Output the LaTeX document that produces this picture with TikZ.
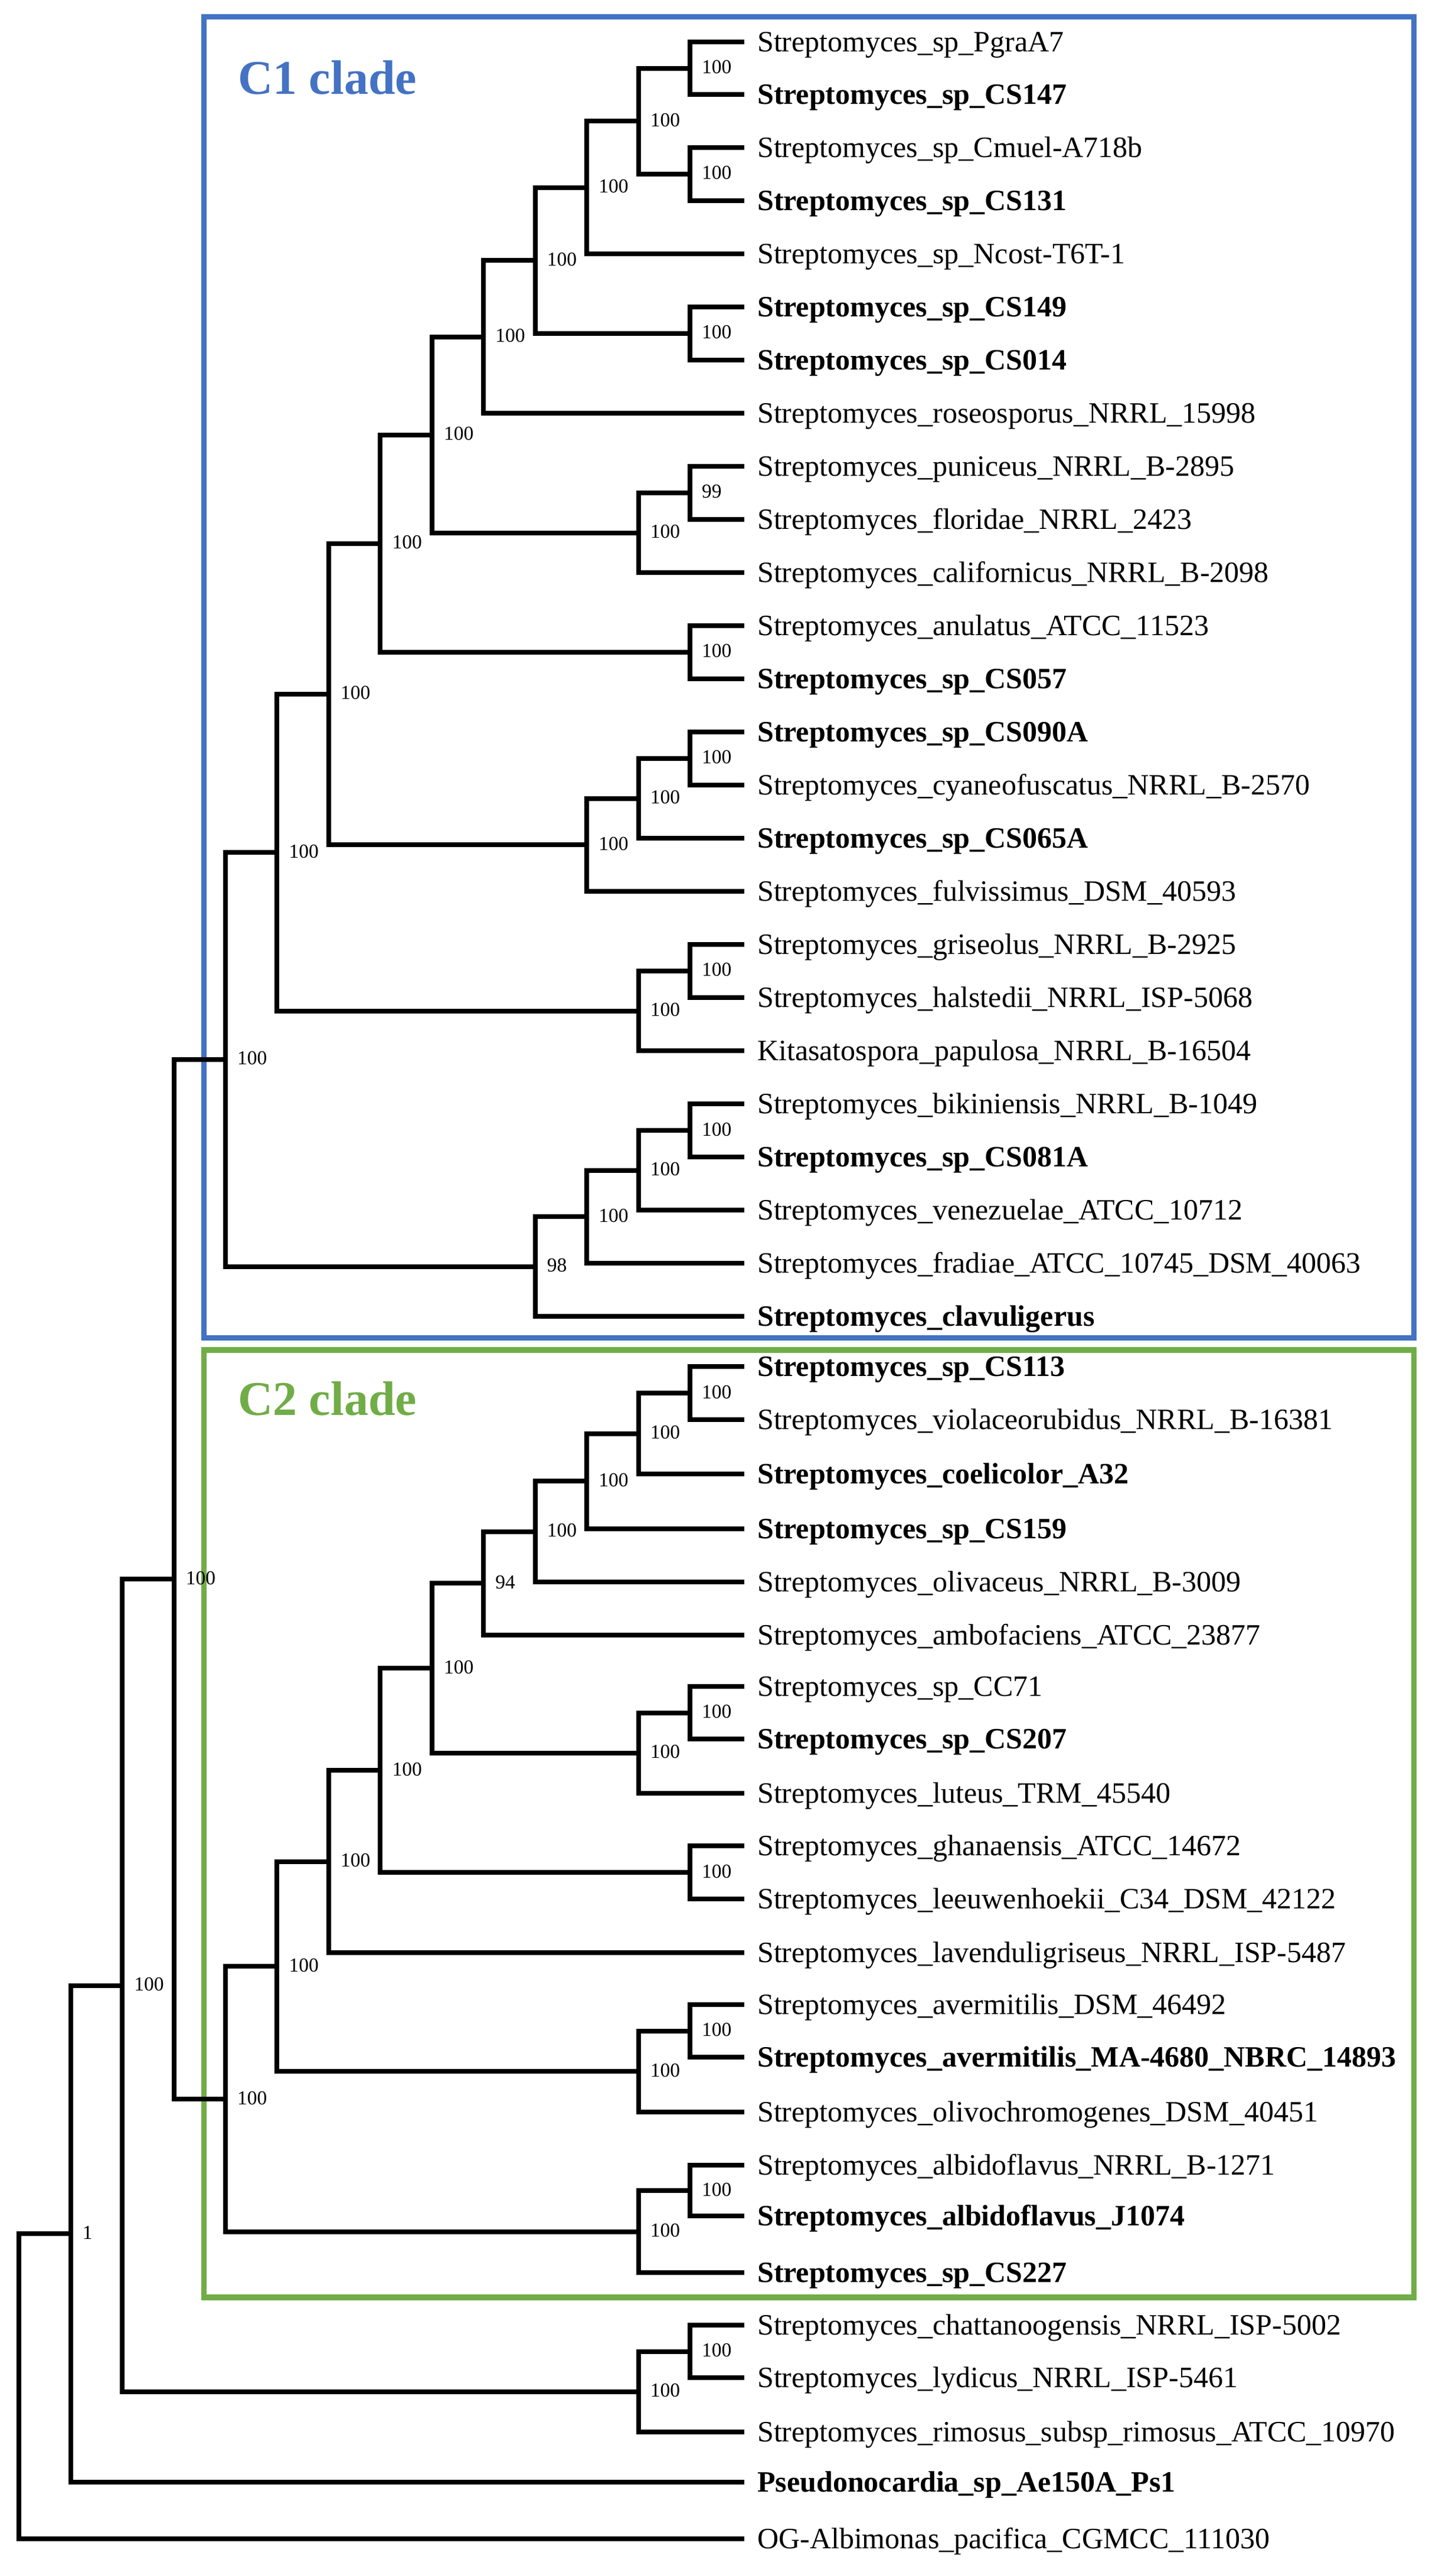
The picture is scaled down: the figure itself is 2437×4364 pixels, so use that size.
\documentclass[tikz,border=0pt]{standalone}
\usepackage{fontspec}
\setmainfont{Liberation Serif}
\definecolor{cladeblue}{HTML}{4472C4}
\definecolor{cladegreen}{HTML}{70AD47}
\tikzset{
  branch/.style={line width=8pt, line join=miter, line cap=butt, black},
  boot/.style={anchor=west, inner sep=0pt, font=\fontsize{33.5}{40}\selectfont},
  lf/.style={anchor=base west, inner sep=0pt, font=\fontsize{50}{60}\selectfont},
  lfb/.style={anchor=base west, inner sep=0pt, font=\fontsize{50}{60}\selectfont\bfseries},
  cladebox/.style={line width=9.3pt},
  cladelabel/.style={anchor=base west, inner sep=0pt, font=\fontsize{82}{90}\selectfont\bfseries},
}
% leaf: #1 index, #2 y, #3 style, #4 text
\newcommand\leafitem[4]{%
  \coordinate (t#1) at (1261,#2);
  \node[#3] (l#1) at (1283,#2+16) {#4};
}
% clade: #1 name, #2 level, #3 y, #4 child 1, #5 child 2, #6 support
\newcommand\cladenode[6]{%
  \coordinate (#1) at ({1169-87.44*(#2-1)},#3);
  \draw[branch] (#4) -| (#1) |- (#5);
  \node[boot] (b#1) at ({1169-87.44*(#2-1)+20},#3-2) {#6};
}
\begin{document}
\begin{tikzpicture}[x=1pt,y=-1pt]
\useasboundingbox (0,0) rectangle (2437,4364);
\fill[white] (0,0) rectangle (2437,4364);
% clade boxes
\draw[cladebox, cladeblue] (345.3,28.7) rectangle (2395.5,2266.7);
\draw[cladebox, cladegreen] (345.3,2287) rectangle (2395.5,3892);
\node[cladelabel, text=cladeblue] (c1lab) at (403,159) {C1 clade};
\node[cladelabel, text=cladegreen] (c2lab) at (403,2397) {C2 clade};
% leaves
\leafitem{0}{71}{lf}{Streptomyces\_sp\_PgraA7}
\leafitem{1}{160}{lfb}{Streptomyces\_sp\_CS147}
\leafitem{2}{250}{lf}{Streptomyces\_sp\_Cmuel-A718b}
\leafitem{3}{340}{lfb}{Streptomyces\_sp\_CS131}
\leafitem{4}{430}{lf}{Streptomyces\_sp\_Ncost-T6T-1}
\leafitem{5}{520}{lfb}{Streptomyces\_sp\_CS149}
\leafitem{6}{610}{lfb}{Streptomyces\_sp\_CS014}
\leafitem{7}{700}{lf}{Streptomyces\_roseosporus\_NRRL\_15998}
\leafitem{8}{790}{lf}{Streptomyces\_puniceus\_NRRL\_B-2895}
\leafitem{9}{880}{lf}{Streptomyces\_floridae\_NRRL\_2423}
\leafitem{10}{970}{lf}{Streptomyces\_californicus\_NRRL\_B-2098}
\leafitem{11}{1060}{lf}{Streptomyces\_anulatus\_ATCC\_11523}
\leafitem{12}{1150}{lfb}{Streptomyces\_sp\_CS057}
\leafitem{13}{1240}{lfb}{Streptomyces\_sp\_CS090A}
\leafitem{14}{1330}{lf}{Streptomyces\_cyaneofuscatus\_NRRL\_B-2570}
\leafitem{15}{1420}{lfb}{Streptomyces\_sp\_CS065A}
\leafitem{16}{1510}{lf}{Streptomyces\_fulvissimus\_DSM\_40593}
\leafitem{17}{1600}{lf}{Streptomyces\_griseolus\_NRRL\_B-2925}
\leafitem{18}{1690}{lf}{Streptomyces\_halstedii\_NRRL\_ISP-5068}
\leafitem{19}{1780}{lf}{Kitasatospora\_papulosa\_NRRL\_B-16504}
\leafitem{20}{1870}{lf}{Streptomyces\_bikiniensis\_NRRL\_B-1049}
\leafitem{21}{1960}{lfb}{Streptomyces\_sp\_CS081A}
\leafitem{22}{2050}{lf}{Streptomyces\_venezuelae\_ATCC\_10712}
\leafitem{23}{2140}{lf}{Streptomyces\_fradiae\_ATCC\_10745\_DSM\_40063}
\leafitem{24}{2230}{lfb}{Streptomyces\_clavuligerus}
\leafitem{25}{2315}{lfb}{Streptomyces\_sp\_CS113}
\leafitem{26}{2405}{lf}{Streptomyces\_violaceorubidus\_NRRL\_B-16381}
\leafitem{27}{2497}{lfb}{Streptomyces\_coelicolor\_A32}
\leafitem{28}{2590}{lfb}{Streptomyces\_sp\_CS159}
\leafitem{29}{2680}{lf}{Streptomyces\_olivaceus\_NRRL\_B-3009}
\leafitem{30}{2770}{lf}{Streptomyces\_ambofaciens\_ATCC\_23877}
\leafitem{31}{2857}{lf}{Streptomyces\_sp\_CC71}
\leafitem{32}{2946}{lfb}{Streptomyces\_sp\_CS207}
\leafitem{33}{3038}{lf}{Streptomyces\_luteus\_TRM\_45540}
\leafitem{34}{3127}{lf}{Streptomyces\_ghanaensis\_ATCC\_14672}
\leafitem{35}{3217}{lf}{Streptomyces\_leeuwenhoekii\_C34\_DSM\_42122}
\leafitem{36}{3308}{lf}{Streptomyces\_lavenduligriseus\_NRRL\_ISP-5487}
\leafitem{37}{3396}{lf}{Streptomyces\_avermitilis\_DSM\_46492}
\leafitem{38}{3485}{lfb}{Streptomyces\_avermitilis\_MA-4680\_NBRC\_14893}
\leafitem{39}{3578}{lf}{Streptomyces\_olivochromogenes\_DSM\_40451}
\leafitem{40}{3668}{lf}{Streptomyces\_albidoflavus\_NRRL\_B-1271}
\leafitem{41}{3754}{lfb}{Streptomyces\_albidoflavus\_J1074}
\leafitem{42}{3850}{lfb}{Streptomyces\_sp\_CS227}
\leafitem{43}{3939}{lf}{Streptomyces\_chattanoogensis\_NRRL\_ISP-5002}
\leafitem{44}{4028}{lf}{Streptomyces\_lydicus\_NRRL\_ISP-5461}
\leafitem{45}{4120}{lf}{Streptomyces\_rimosus\_subsp\_rimosus\_ATCC\_10970}
\leafitem{46}{4205}{lfb}{Pseudonocardia\_sp\_Ae150A\_Ps1}
\leafitem{47}{4301}{lf}{OG-Albimonas\_pacifica\_CGMCC\_111030}
% C1 clade
\cladenode{n1}{1}{115.5}{t0}{t1}{100}
\cladenode{n2}{1}{295}{t2}{t3}{100}
\cladenode{n3}{2}{205.25}{n1}{n2}{100}
\cladenode{n4}{3}{317.6}{n3}{t4}{100}
\cladenode{n5}{1}{565}{t5}{t6}{100}
\cladenode{n6}{4}{441.3}{n4}{n5}{100}
\cladenode{n7}{5}{570.65}{n6}{t7}{100}
\cladenode{n8}{1}{835}{t8}{t9}{99}
\cladenode{n9}{2}{902.5}{n8}{t10}{100}
\cladenode{n10}{6}{736.6}{n7}{n9}{100}
\cladenode{n11}{1}{1105}{t11}{t12}{100}
\cladenode{n12}{7}{920.8}{n10}{n11}{100}
\cladenode{n13}{1}{1285}{t13}{t14}{100}
\cladenode{n14}{2}{1352.5}{n13}{t15}{100}
\cladenode{n15}{3}{1431.25}{n14}{t16}{100}
\cladenode{n16}{8}{1176}{n12}{n15}{100}
\cladenode{n17}{1}{1645}{t17}{t18}{100}
\cladenode{n18}{2}{1712.5}{n17}{t19}{100}
\cladenode{n19}{9}{1444.3}{n16}{n18}{100}
\cladenode{n20}{1}{1915}{t20}{t21}{100}
\cladenode{n21}{2}{1982.5}{n20}{t22}{100}
\cladenode{n22}{3}{2061.25}{n21}{t23}{100}
\cladenode{n23}{4}{2145.6}{n22}{t24}{98}
\cladenode{n24}{10}{1794.9}{n19}{n23}{100}
% C2 clade
\cladenode{m1}{1}{2360}{t25}{t26}{100}
\cladenode{m2}{2}{2428.5}{m1}{t27}{100}
\cladenode{m3}{3}{2509.25}{m2}{t28}{100}
\cladenode{m4}{4}{2594.6}{m3}{t29}{100}
\cladenode{m5}{5}{2682.3}{m4}{t30}{94}
\cladenode{m6}{1}{2901.5}{t31}{t32}{100}
\cladenode{m7}{2}{2969.75}{m6}{t33}{100}
\cladenode{m8}{6}{2826}{m5}{m7}{100}
\cladenode{m9}{1}{3172}{t34}{t35}{100}
\cladenode{m10}{7}{2999}{m8}{m9}{100}
\cladenode{m11}{8}{3153.5}{m10}{t36}{100}
\cladenode{m12}{1}{3440.5}{t37}{t38}{100}
\cladenode{m13}{2}{3509.25}{m12}{t39}{100}
\cladenode{m14}{9}{3331.4}{m11}{m13}{100}
\cladenode{m15}{1}{3711}{t40}{t41}{100}
\cladenode{m16}{2}{3780.5}{m15}{t42}{100}
\cladenode{m17}{10}{3556}{m14}{m16}{100}
% outer nodes
\cladenode{r1}{11}{2675.4}{n24}{m17}{100}
\cladenode{o1}{1}{3983.5}{t43}{t44}{100}
\cladenode{o2}{2}{4051.75}{o1}{t45}{100}
\cladenode{r2}{12}{3363.6}{r1}{o2}{100}
\cladenode{r3}{13}{3784.3}{r2}{t46}{1}
\coordinate (r4) at ({1169-87.44*13},4042.6);
\draw[branch] (r3) -| (r4) |- (t47);
\end{tikzpicture}
\end{document}
